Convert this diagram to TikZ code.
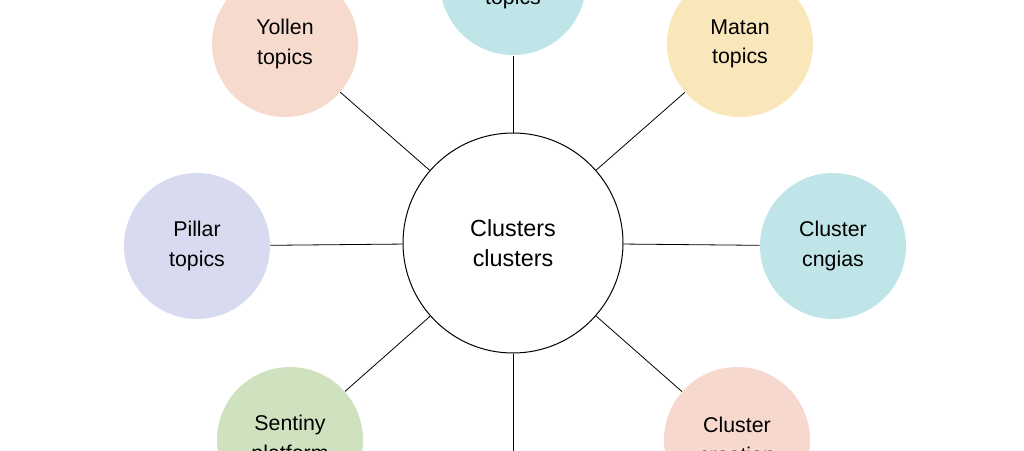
\documentclass[tikz,border=0pt]{standalone}
\usepackage{fontspec}
\setmainfont{Liberation Sans}
\tikzset{every picture/.style={line width=0.75pt}}
\definecolor{cPink}{RGB}{246,218,206}
\definecolor{cTeal}{RGB}{192,229,233}
\definecolor{cSand}{RGB}{249,231,187}
\definecolor{cLilac}{RGB}{216,219,239}
\definecolor{cGreen}{RGB}{207,226,192}
\definecolor{cRose}{RGB}{246,216,206}
\tikzset{
  topic/.style={circle,minimum size=109.5pt,inner sep=0pt,align=center,font=\fontsize{16}{22}\selectfont},
  hub/.style={circle,draw,minimum size=165pt,inner sep=0pt,align=center,font=\fontsize{17.5}{23}\selectfont},
  link/.style={draw,line width=0.6pt}
}
\begin{document}
\begin{tikzpicture}[x=0.75pt,y=0.75pt,yscale=-1]
\useasboundingbox (0,0) rectangle (1024,450);
\clip (0,0) rectangle (1024,450);

% hub
\node [hub] (hub) at (513,243) {Clusters\\clusters};

% satellites
\node [topic,fill=cTeal] (top) at (513,-18) {};
\node [font=\fontsize{16}{22}\selectfont] (toptext) at (513,-1) {topics};
\node [topic,fill=cPink] (yollen) at (285,44) {Yollen\\topics};
\node [topic,fill=cSand] (matan) at (740,44) {Matan\\topics};
\node [topic,fill=cLilac] (pillar) at (197,246) {Pillar\\topics};
\node [topic,fill=cTeal] (cngias) at (833,246) {Cluster\\cngias};
\node [topic,fill=cGreen] (sentiny) at (290,440) {Sentiny\\platform};
\node [topic,fill=cRose] (clusterb) at (737,440) {Cluster\\creation};
\node [topic] (bottom) at (513,540) {};

% connectors
\foreach \s in {top,yollen,matan,pillar,cngias,sentiny,clusterb,bottom}
  \draw [link] (hub) -- (\s);

\end{tikzpicture}
\end{document}
